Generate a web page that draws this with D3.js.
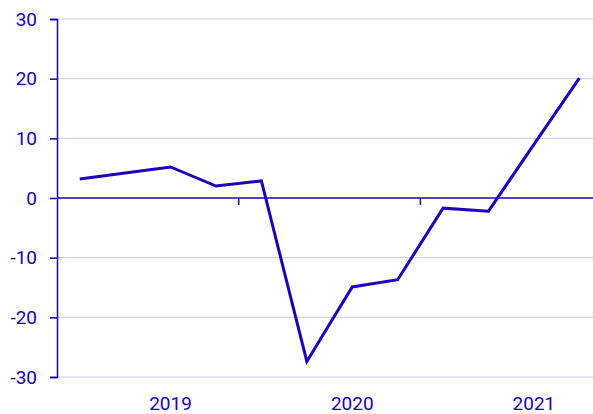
<!DOCTYPE html>
<html>
<head>
<meta charset="utf-8">
<script src="https://cdn.jsdelivr.net/npm/d3@7"></script>
<style>
  body { margin: 0; background: #fff; }
  svg { display: block; font-family: Roboto, sans-serif; }
</style>
</head>
<body>
<div id="chart"></div>
<script>
// quarterly values, 2019 Q1 .. 2021 Q4
const quarters = ['2019K1','2019K2','2019K3','2019K4','2020K1','2020K2','2020K3','2020K4','2021K1','2021K2','2021K3','2021K4'];
const values = [3.2, 4.2, 5.2, 2.0, 2.85, -27.4, -14.9, -13.7, -1.7, -2.2, 9.0, 20.1];
const years = ['2019', '2020', '2021'];
const yTicks = [-30, -20, -10, 0, 10, 20, 30];

const w = 593, h = 414;
const ink = '#1e00b9';

const svg = d3.select('#chart').append('svg').attr('width', w).attr('height', h);

const x = d3.scaleLinear().domain([-0.5, 11.3]).range([57, 593]);
const y = d3.scaleLinear().domain([-30, 30]).range([377, 19]);

// grid
svg.append('g')
  .selectAll('line')
  .data(yTicks.filter(d => d !== 0))
  .enter()
  .append('line')
  .attr('x1', 57).attr('x2', w)
  .attr('y1', d => y(d)).attr('y2', d => y(d))
  .attr('stroke', '#d4d0f2')
  .attr('stroke-width', 1.2);

// y axis (plain hyphen for negatives, like the original)
const yAxis = d3.axisLeft(y).tickValues(yTicks).tickSize(7).tickPadding(13).tickFormat(d => String(d));
const gy = svg.append('g').attr('transform', 'translate(57,0)').call(yAxis);
gy.select('.domain').attr('stroke', ink).attr('stroke-width', 1.5);
gy.selectAll('.tick line').attr('stroke', ink).attr('stroke-width', 1.5);
gy.selectAll('.tick text').attr('fill', ink).style('font-size', '19px').style('font-family', 'Roboto, sans-serif');

// zero line with year boundary ticks
svg.append('line')
  .attr('x1', 57).attr('x2', w)
  .attr('y1', y(0)).attr('y2', y(0))
  .attr('stroke', ink).attr('stroke-width', 1.5);

svg.selectAll('.yeartick')
  .data([3.5, 7.5])
  .enter()
  .append('line')
  .attr('class', 'yeartick')
  .attr('x1', d => x(d)).attr('x2', d => x(d))
  .attr('y1', y(0)).attr('y2', y(0) + 7)
  .attr('stroke', ink).attr('stroke-width', 1.5);

// year labels
svg.selectAll('.year')
  .data(years)
  .enter()
  .append('text')
  .attr('class', 'year')
  .attr('x', (d, i) => x(i * 4 + 2))
  .attr('y', 410)
  .attr('text-anchor', 'middle')
  .attr('fill', ink)
  .style('font-size', '19px')
  .text(d => d);

// line
const line = d3.line()
  .x((d, i) => x(i))
  .y(d => y(d));

svg.append('path')
  .datum(values)
  .attr('d', line)
  .attr('fill', 'none')
  .attr('stroke', '#1f00bd')
  .attr('stroke-width', 3)
  .attr('stroke-linejoin', 'miter');
</script>
</body>
</html>
